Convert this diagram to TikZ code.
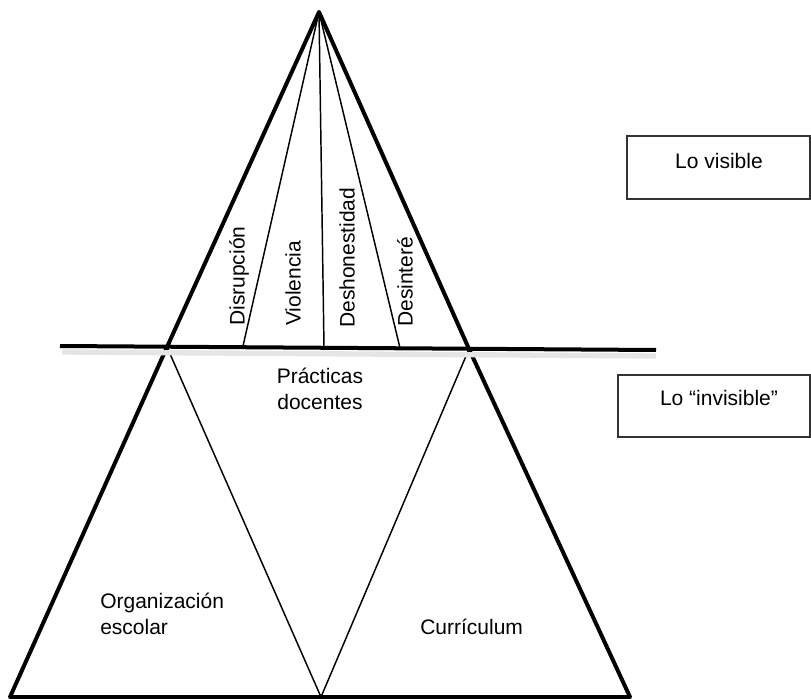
\documentclass[tikz,border=0pt]{standalone}
\usepackage{fontspec}
\setmainfont{Liberation Sans}
\begin{document}
\begin{tikzpicture}[x=0.75pt,y=-0.75pt,
  thickln/.style={line width=3pt,line cap=round,line join=round},
  thinln/.style={line width=1.1pt},
  lbl/.style={font=\fontsize{15.75pt}{19.5pt}\selectfont,inner sep=0pt},
  vlbl/.style={lbl,rotate=90,anchor=west},
  boxlbl/.style={draw=black!80,line width=0.8pt}]
\useasboundingbox (0,0) rectangle (811,699);
% key points
\coordinate (A) at (319,12);
\coordinate (L1) at (167,347);
\coordinate (R1) at (469,349);
\coordinate (BL) at (10,697);
\coordinate (BR) at (630,697);
\coordinate (M) at (321,697);
\coordinate (H1) at (60,346);
\coordinate (H2) at (656,350);
\coordinate (T1) at (243,346);
\coordinate (T2) at (324,347);
\coordinate (T3) at (400,348);
% thin dividers
\draw[thinln] (A) -- (T1);
\draw[thinln] (A) -- (T2);
\draw[thinln] (A) -- (T3);
\draw[thinln] (L1) -- (M) -- (R1);
% thick outline
\draw[thickln] (L1) -- (A) -- (R1);
\draw[thickln] (L1) -- (BL) -- (BR) -- (R1);
\draw[black!10,line width=4pt] (62,352) -- (656,356);
\draw[line width=3pt] (H1) -- (H2);
% rotated labels
\node[vlbl] (d1) at (239,326) {Disrupción};
\node[vlbl] (d2) at (293,326) {Violencia};
\node[vlbl] (d3) at (347,328) {Deshonestidad};
\node[vlbl] (d4) at (405,327) {Desinteré};
% lower labels
\node[lbl,align=center,anchor=base] (pd) at (320,409) {Prácticas\\docentes};
\node[lbl,align=left,anchor=base west] (oe) at (100,634) {Organización\\escolar};
\node[lbl,anchor=base west] (cu) at (420,634) {Currículum};
% side boxes
\draw[boxlbl] (627,136) rectangle (810,199);
\node[lbl,anchor=base] (lv) at (719,168) {Lo visible};
\draw[boxlbl] (618,375) rectangle (810,437);
\node[lbl,anchor=base] (li) at (719,405) {Lo “invisible”};
\end{tikzpicture}
\end{document}
